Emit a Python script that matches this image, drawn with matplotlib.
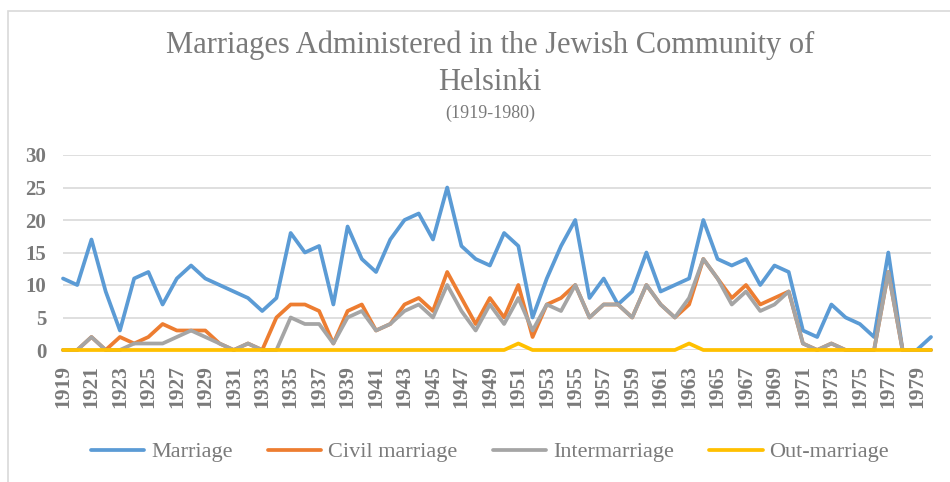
import numpy as np
import matplotlib.pyplot as plt
from matplotlib.patches import Rectangle

plt.rcParams['font.family'] = ['Liberation Serif', 'DejaVu Serif']

anos = np.arange(1919, 1981)

marriage = [11, 10, 17, 9, 3, 11, 12, 7, 11, 13, 11, 10, 9, 8, 6, 8, 18, 15, 16, 7,
            19, 14, 12, 17, 20, 21, 17, 25, 16, 14, 13, 18, 16, 5, 11, 16, 20, 8, 11, 7,
            9, 15, 9, 10, 11, 20, 14, 13, 14, 10, 13, 12, 3, 2, 7, 5, 4, 2, 15, 0,
            0, 2]
civil = [0, 0, 2, 0, 2, 1, 2, 4, 3, 3, 3, 1, 0, 1, 0, 5, 7, 7, 6, 1,
         6, 7, 3, 4, 7, 8, 6, 12, 8, 4, 8, 5, 10, 2, 7, 8, 10, 5, 7, 7,
         5, 10, 7, 5, 7, 14, 11, 8, 10, 7, 8, 9, 1, 0, 1, 0, 0, 0, 12, 0,
         0, 0]
inter = [0, 0, 2, 0, 0, 1, 1, 1, 2, 3, 2, 1, 0, 1, 0, 0, 5, 4, 4, 1,
         5, 6, 3, 4, 6, 7, 5, 10, 6, 3, 7, 4, 8, 3, 7, 6, 10, 5, 7, 7,
         5, 10, 7, 5, 8, 14, 11, 7, 9, 6, 7, 9, 1, 0, 1, 0, 0, 0, 12, 0,
         0, 0]
out = [0] * 62
out[1951 - 1919] = 1
out[1963 - 1919] = 1

series = [
    ('Marriage', marriage, '#5B9BD5'),
    ('Civil marriage', civil, '#ED7D31'),
    ('Intermarriage', inter, '#A5A5A5'),
    ('Out-marriage', out, '#FFC000'),
]
cinza = '#7A7A7A'
centro = 490 / 950  # centro da area do grafico (a borda direita fica fora da imagem)

fig = plt.figure(figsize=(9.5, 4.82), dpi=100)
ax = fig.add_axes([63 / 950, 1 - 350 / 482, 868 / 950, 195 / 482])

# borda do grafico
fig.patches.append(Rectangle((8 / 950, -0.1), 1.2, 1 - 11 / 482 + 0.1, transform=fig.transFigure,
                             fill=False, edgecolor='#D9D9D9', linewidth=1.2))

for nome, vals, cor in series:
    ax.plot(anos, vals, color=cor, linewidth=2.7, label=nome, solid_capstyle='round',
            solid_joinstyle='round', zorder=3, clip_on=False)

ax.set_xlim(1919, 1980)
ax.set_ylim(0, 30)
ax.set_yticks(range(0, 31, 5))
ax.set_xticks(anos[::2])
ax.set_xticklabels([str(a) for a in anos[::2]], rotation=90, fontsize=15.5,
                   fontweight='bold', color=cinza, va='top')
ax.tick_params(axis='y', labelsize=15, labelcolor=cinza, length=0, pad=12)
ax.tick_params(axis='x', length=0, pad=11)
for lab in ax.get_yticklabels():
    lab.set_fontweight('bold')
ax.grid(axis='y', color='#D9D9D9', linewidth=1.2, zorder=0)
for s in ax.spines.values():
    s.set_visible(False)

fig.text(centro, 1 - 45 / 482, 'Marriages Administered in the Jewish Community of',
         ha='center', va='center', fontsize=22, color=cinza)
fig.text(centro, 1 - 83 / 482, 'Helsinki', ha='center', va='center', fontsize=22, color=cinza)
fig.text(centro, 1 - 113 / 482, '(1919-1980)', ha='center', va='center', fontsize=13, color=cinza)

leg = fig.legend(loc='center', bbox_to_anchor=(centro, 1 - 452 / 482), ncol=4, frameon=False,
                 fontsize=16, handlelength=2.4, handletextpad=0.3, columnspacing=1.6)
for t in leg.get_texts():
    t.set_color(cinza)

fig.savefig('out.png', dpi=100)
